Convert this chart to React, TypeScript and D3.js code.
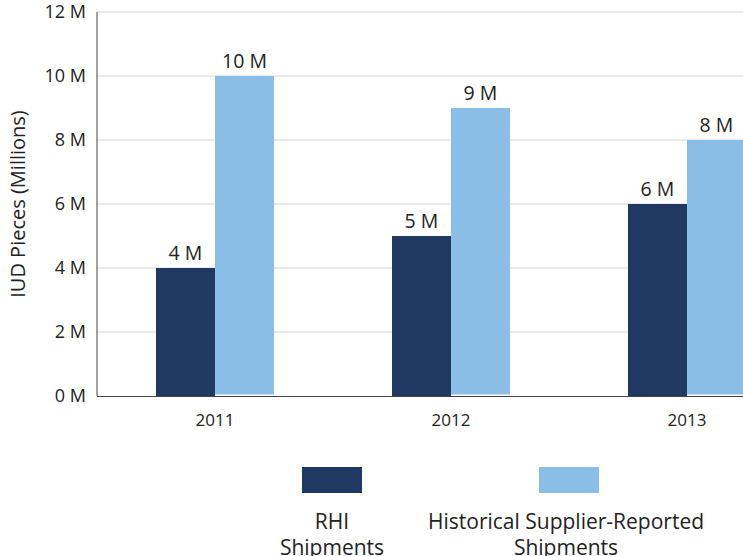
import { useEffect, useRef } from 'react';
import * as d3 from 'd3';

const years = ['2011', '2012', '2013'];
const rhiShipments = [4, 5, 6];
const supplierShipments = [10, 9, 8];
const seriesNames = [['RHI', 'Shipments'], ['Historical Supplier-Reported', 'Shipments']];
const yTicks = [0, 2, 4, 6, 8, 10, 12];

const COLORS = ['#1f3963', '#8bbee7'];
const FONT = '"Open Sans", "Noto Sans", sans-serif';

const App: React.FC = () => {
	const ref = useRef<SVGSVGElement>(null);

	useEffect(() => {
		if (!ref.current) return;
		const svg = d3.select(ref.current);
		svg.selectAll('*').remove();

		const width = 743;
		const left = 97;
		const top = 12;
		const bottom = 396;

		const x = d3.scaleBand<string>().domain(years).range([left, left + 236 * 3]).paddingInner(0.5).paddingOuter(0.25);
		const x1 = d3.scaleBand<number>().domain([0, 1]).range([0, x.bandwidth()]);
		const y = d3.scaleLinear().domain([0, 12]).range([bottom, top]);

		// grid
		svg.append('g')
			.selectAll('line')
			.data(yTicks.filter((t) => t > 0))
			.join('line')
			.attr('x1', left)
			.attr('x2', width)
			.attr('y1', (d) => y(d))
			.attr('y2', (d) => y(d))
			.attr('stroke', '#d4d4d4')
			.attr('stroke-width', 1);

		// y tick labels
		svg.append('g')
			.selectAll('text')
			.data(yTicks)
			.join('text')
			.attr('x', 86)
			.attr('y', (d) => y(d))
			.attr('dy', '0.35em')
			.attr('text-anchor', 'end')
			.style('font-family', FONT)
			.style('font-size', '18px')
			.style('fill', '#222')
			.text((d) => `${d} M`);

		svg.append('text')
			.attr('transform', `translate(25, ${(top + bottom) / 2}) rotate(-90)`)
			.attr('text-anchor', 'middle')
			.style('font-family', FONT)
			.style('font-size', '20px')
			.style('fill', '#222')
			.text('IUD Pieces (Millions)');

		const data = years.map((yr, i) => ({ yr, vals: [rhiShipments[i], supplierShipments[i]] }));

		const groups = svg.append('g')
			.selectAll('g')
			.data(data)
			.join('g')
			.attr('transform', (d) => `translate(${x(d.yr)}, 0)`);

		groups.selectAll('rect')
			.data((d) => d.vals.map((v, k) => ({ v, k })))
			.join('rect')
			.attr('x', (d) => x1(d.k) ?? 0)
			.attr('width', x1.bandwidth())
			.attr('y', (d) => y(d.v))
			.attr('height', (d) => y(0) - y(d.v) - (d.k === 1 ? 1.5 : 0))
			.attr('fill', (d) => COLORS[d.k]);

		groups.selectAll('text')
			.data((d) => d.vals.map((v, k) => ({ v, k })))
			.join('text')
			.attr('x', (d) => (x1(d.k) ?? 0) + x1.bandwidth() / 2)
			.attr('y', (d) => y(d.v) - 8)
			.attr('text-anchor', 'middle')
			.style('font-family', FONT)
			.style('font-size', '19.5px')
			.style('fill', '#222')
			.text((d) => `${d.v} M`);

		// axes lines
		svg.append('line')
			.attr('x1', left).attr('x2', left)
			.attr('y1', top).attr('y2', bottom)
			.attr('stroke', '#444').attr('stroke-width', 1);
		svg.append('line')
			.attr('x1', left).attr('x2', width)
			.attr('y1', bottom + 0.5).attr('y2', bottom + 0.5)
			.attr('stroke', '#444').attr('stroke-width', 1);

		svg.append('g')
			.selectAll('text')
			.data(years)
			.join('text')
			.attr('x', (d) => (x(d) ?? 0) + x.bandwidth() / 2)
			.attr('y', 426)
			.attr('text-anchor', 'middle')
			.style('font-family', FONT)
			.style('font-size', '17px')
			.style('fill', '#222')
			.text((d) => d);

		// legend
		const swatchX = [332, 569];
		const labelX = [332, 566];
		const legend = svg.append('g')
			.selectAll('g')
			.data(seriesNames)
			.join('g');
		legend.append('rect')
			.attr('x', (_, i) => swatchX[i] - 30).attr('y', 467).attr('width', 60).attr('height', 26)
			.attr('fill', (_, i) => COLORS[i]);
		legend.append('text')
			.attr('text-anchor', 'middle')
			.attr('transform', (_, i) => `translate(${labelX[i]}, 0)`)
			.style('font-family', FONT)
			.style('font-size', '21px')
			.style('fill', '#222')
			.selectAll('tspan')
			.data((d) => d)
			.join('tspan')
			.attr('x', 0)
			.attr('y', (_, j) => 529 + j * 26)
			.text((d) => d);
	}, []);

	return <svg ref={ref} width={743} height={556} style={{ position: 'absolute', left: 0, top: 0 }} />;
};

export default App;
